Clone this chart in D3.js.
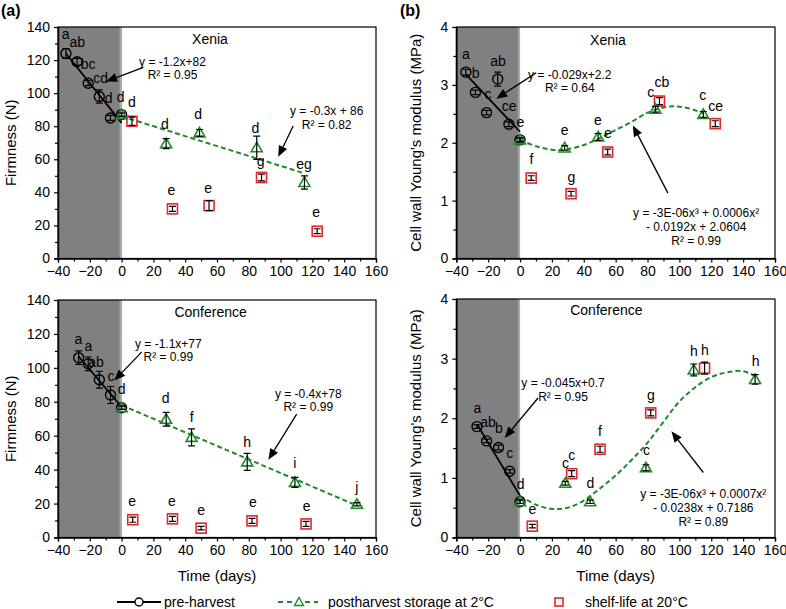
<!DOCTYPE html>
<html><head><meta charset="utf-8">
<script src="https://cdn.jsdelivr.net/npm/d3@7"></script>
<style>body{margin:0;background:#fff} text{font-family:"Liberation Sans",Arial,sans-serif}</style>
</head><body><svg id="c" width="786" height="609"></svg>
<script>
// ---------- data ----------
const xTickValues = [-40,-20,0,20,40,60,80,100,120,140,160];
const firmTicks = [0,20,40,60,80,100,120,140];
const youngTicks = [0,1,2,3,4];

// [time, value, error]
const xeniaFirmPre  = [[-35,124,3],[-28,119,2],[-21,106,1.5],[-14,98,4],[-7,85,1.5],[0,87,1]];
const xeniaFirmPost = [[0,87,1],[28,69.5,3],[49,76,2],[85,67,7],[115,46,4]];
const xeniaFirmShelf= [[6.5,83,2.5],[32,30,1.5],[55,32,3],[88,49,2],[123,16.5,1.5]];
const xeniaFirmPreFit  = [[-35,124],[0,82]];
const xeniaFirmPostFit = [[0,86],[115,51.5]];
const xeniaFirmLetters = [[-35.2,135.8,"a"],[-27.9,130.8,"ab"],[-21,117.6,"bc"],[-13.1,109,"cd"],[-8.1,96.7,"d"],[-0.6,97.7,"d"],[6.4,94.7,"d"],[27.3,81.1,"d"],[48.2,87.6,"d"],[84.1,79.1,"d"],[87.5,59.2,"g"],[114.7,56.8,"eg"],[31.3,41.1,"e"],[54.5,42.6,"e"],[122.3,28,"e"]];

const xeniaYoungPre  = [[-34,3.22,0.05],[-28,2.87,0.04],[-21,2.52,0.04],[-14,3.1,0.12],[-7,2.32,0.04],[0,2.05,0.04]];
const xeniaYoungPost = [[0,2.05,0.03],[28,1.91,0.04],[49,2.1,0.06],[85,2.58,0.05],[115,2.49,0.05]];
const xeniaYoungShelf= [[7,1.39,0.04],[32,1.12,0.04],[55,1.84,0.05],[87.5,2.72,0.06],[122.5,2.33,0.05]];
const xeniaYoungPreFit  = [[-34,3.18],[0,2.19]];
const xeniaYoungPostFit = [[0,2.05],[10,1.94],[20,1.88],[28,1.88],[40,1.96],[50,2.08],[60,2.22],[70,2.36],[80,2.52],[90,2.61],[97,2.63],[105,2.6],[115,2.51]];
const xeniaYoungLetters = [[-34,3.54,"a"],[-27.8,3.21,"b"],[-13.8,3.41,"ab"],[-20.1,2.84,"c"],[-6.9,2.63,"ce"],[0.2,2.36,"e"],[7.1,1.71,"f"],[32.2,1.41,"g"],[28,2.22,"e"],[48.9,2.4,"e"],[55.2,2.16,"e"],[82.1,2.88,"c"],[89,3.04,"cb"],[114.7,2.82,"c"],[122.7,2.63,"ce"]];

const confFirmPre  = [[-27,106,4],[-21,102.4,4],[-14,93,5],[-7,84,5],[0,76.5,1]];
const confFirmPost = [[0,76.5,1],[28,69.7,4],[44,59,5],[79,44.6,5],[109,32.5,3],[148,19.6,1]];
const confFirmShelf= [[7,10.5,1.5],[32,11,1.5],[50,5.5,1],[82,9.8,1.5],[116,8,1.5]];
const confFirmPreFit  = [[-27,106.7],[0,77]];
const confFirmPostFit = [[0,78],[148,18.8]];
const confFirmLetters = [[-27.2,117.2,"a"],[-20.9,112.9,"a"],[-16.1,103.4,"ab"],[-6.7,95.4,"c"],[0,87.5,"d"],[27.7,82,"d"],[44.1,70.7,"f"],[78.9,56.2,"h"],[108.9,43.6,"i"],[148,29.7,"j"],[6.7,21.2,"e"],[31.7,21.6,"e"],[50.1,16.2,"e"],[82.5,21,"e"],[116.4,18.8,"e"]];

const confYoungPre  = [[-27,1.86,0.03],[-21,1.62,0.03],[-13.5,1.51,0.04],[-6.5,1.11,0.03],[0,0.6,0.03]];
const confYoungPost = [[0,0.6,0.03],[28.4,0.91,0.03],[44,0.6,0.03],[79,1.17,0.05],[109,2.81,0.1],[147.5,2.65,0.08]];
const confYoungShelf= [[7.7,0.19,0.03],[32.4,1.07,0.05],[50.2,1.48,0.05],[82,2.09,0.05],[115.8,2.84,0.1]];
const confYoungPreFit  = [[-27,1.9],[0,0.7]];
const confYoungPostFit = [[0,0.7],[10,0.55],[20,0.48],[30,0.5],[40,0.62],[50,0.82],[60,1.04],[70,1.3],[80,1.59],[90,1.94],[100,2.28],[110,2.52],[120,2.69],[130,2.77],[140,2.79],[148,2.7]];
const confYoungLetters = [[-26.8,2.17,"a"],[-20.1,1.94,"ab"],[-13.2,1.84,"b"],[-6.5,1.42,"c"],[0.4,0.9,"d"],[7.7,0.48,"e"],[28.5,1.24,"c"],[32.5,1.38,"c"],[44.2,0.92,"d"],[50.1,1.79,"f"],[79.3,1.47,"c"],[82.1,2.38,"g"],[109.1,3.12,"h"],[116,3.15,"h"],[147.8,2.96,"h"]];

// ---------- styles ----------
const GREEN = "#1f8a2a", RED = "#e3262b";
const svg = d3.select("#c");

function panel(o){
  const x = d3.scaleLinear().domain([-40,160]).range([o.left,o.right]);
  const y = d3.scaleLinear().domain([0,o.ymax]).range([o.bottom,o.top]);
  const g = svg.append("g");
  // shaded pre-harvest area
  g.append("rect").attr("x",x(-40)).attr("y",o.top).attr("width",x(0)-x(-40)).attr("height",o.bottom-o.top).attr("fill","#808080");
  g.append("rect").attr("x",x(0)-2).attr("y",o.top).attr("width",2).attr("height",o.bottom-o.top).attr("fill","#a9a9a9");
  // frame
  g.append("rect").attr("x",o.left).attr("y",o.top).attr("width",o.right-o.left).attr("height",o.bottom-o.top).attr("fill","none").attr("stroke","#000").attr("stroke-width",1.2);
  // axes
  g.append("g").attr("transform",`translate(0,${o.bottom})`)
    .call(d3.axisBottom(x).tickValues(xTickValues).tickSize(4).tickPadding(4).tickFormat(d3.format("d")));
  g.append("g").attr("transform",`translate(0,${o.bottom})`)
    .call(d3.axisBottom(x).tickValues(d3.range(-30,160,20)).tickSize(3).tickFormat(""));
  g.append("g").attr("transform",`translate(${o.left},0)`)
    .call(d3.axisLeft(y).tickValues(o.yticks).tickSize(4).tickPadding(4).tickFormat(d3.format("d")));
  g.append("g").attr("transform",`translate(${o.left},0)`)
    .call(d3.axisLeft(y).tickValues(o.minor).tickSize(3).tickFormat(""));
  g.selectAll(".domain").attr("stroke","#000").attr("stroke-width",1.2);
  g.selectAll(".tick line").attr("stroke","#000").attr("stroke-width",1.2);
  g.selectAll(".tick text").attr("font-size",14).attr("fill","#000").attr("font-family","Liberation Sans, Arial, sans-serif");

  const line = d3.line().x(d=>x(d[0])).y(d=>y(d[1]));
  // fits
  g.append("path").attr("d",line(o.preFit)).attr("stroke","#000").attr("stroke-width",1.8).attr("fill","none");
  g.append("path").attr("d",line.curve(o.postCurve?d3.curveCatmullRom:d3.curveLinear)(o.postFit)).attr("stroke",GREEN).attr("stroke-width",2).attr("stroke-dasharray","5,3").attr("fill","none");

  // error bars
  function errbars(data){
    data.forEach(d=>{
      const y0=y(d[1]-d[2]), y1=y(d[1]+d[2]), cx=x(d[0]);
      const p=d3.path(); p.moveTo(cx,y0); p.lineTo(cx,y1); p.moveTo(cx-3.5,y0); p.lineTo(cx+3.5,y0); p.moveTo(cx-3.5,y1); p.lineTo(cx+3.5,y1);
      g.append("path").attr("d",p.toString()).attr("stroke","#000").attr("stroke-width",1.2).attr("fill","none");
    });
  }
  // markers
  g.selectAll(null).data(o.shelf).enter().append("rect")
    .attr("x",d=>x(d[0])-5).attr("y",d=>y(d[1])-5).attr("width",10).attr("height",10)
    .attr("fill","none").attr("stroke",RED).attr("stroke-width",1.6);
  errbars(o.shelf);
  g.selectAll(null).data(o.pre).enter().append("circle")
    .attr("cx",d=>x(d[0])).attr("cy",d=>y(d[1])).attr("r",5)
    .attr("fill","none").attr("stroke","#000").attr("stroke-width",1.4);
  errbars(o.pre);
  g.selectAll(null).data(o.post).enter().append("path")
    .attr("d",d=>`M${x(d[0])},${y(d[1])-5.5}L${x(d[0])+5.5},${y(d[1])+4}L${x(d[0])-5.5},${y(d[1])+4}Z`)
    .attr("fill","none").attr("stroke",GREEN).attr("stroke-width",1.6);
  errbars(o.post);

  // letters
  g.selectAll(null).data(o.letters).enter().append("text")
    .attr("x",d=>x(d[0])).attr("y",d=>y(d[1])).attr("dy","0.35em")
    .attr("text-anchor","middle").attr("font-size",14).text(d=>d[2]);

  // title
  g.append("text").attr("x",x(o.title[0])).attr("y",y(o.title[1])).attr("dy","0.35em")
    .attr("text-anchor","middle").attr("font-size",14).text(o.title[2]);

  // annotations
  o.notes.forEach(n=>{
    n.lines.forEach((t,i)=>{
      g.append("text").attr("x",x(n.x)).attr("y",y(n.ys[i])).attr("dy","0.35em")
        .attr("text-anchor","middle").attr("font-size",12).text(t);
    });
    const x1=x(n.from[0]), y1=y(n.from[1]), x2=x(n.to[0]), y2=y(n.to[1]);
    const ang=Math.atan2(y2-y1,x2-x1), L=11, W=4.5;
    const bx=x2-L*Math.cos(ang), by=y2-L*Math.sin(ang);
    g.append("line").attr("x1",x1).attr("y1",y1).attr("x2",bx).attr("y2",by).attr("stroke","#000").attr("stroke-width",1.3);
    g.append("path").attr("d",`M${x2},${y2}L${bx+W*Math.sin(ang)},${by-W*Math.cos(ang)}L${bx-W*Math.sin(ang)},${by+W*Math.cos(ang)}Z`).attr("fill","#000");
  });

  // y title
  g.append("text").attr("transform",`translate(${o.ytitleX},${(o.top+o.bottom)/2}) rotate(-90)`)
    .attr("text-anchor","middle").attr("font-size",15).text(o.ytitle);
  if(o.xtitle){
    g.append("text").attr("x",(o.left+o.right)/2).attr("y",o.bottom+43).attr("text-anchor","middle").attr("font-size",15).text("Time (days)");
  }
}

const firmMinor = d3.range(10,140,20);
const youngMinor = [0.5,1.5,2.5,3.5];

panel({left:58,right:376,top:27,bottom:258.5,ymax:140,yticks:firmTicks,minor:firmMinor,
  pre:xeniaFirmPre,post:xeniaFirmPost,shelf:xeniaFirmShelf,preFit:xeniaFirmPreFit,postFit:xeniaFirmPostFit,
  letters:xeniaFirmLetters,title:[55.6,132.8,"Xenia"],ytitle:"Firmness (N)",ytitleX:16,
  notes:[{x:32,ys:[119.2,110.9],lines:["y = -1.2x+82","R² = 0.95"],from:[13.7,115.6],to:[-9.8,107.1]},
         {x:129,ys:[89.6,81.1],lines:["y = -0.3x + 86","R² = 0.82"],from:[107.9,80.1],to:[98.5,61.5]}]});

panel({left:456.3,right:775,top:27,bottom:258.5,ymax:4,yticks:youngTicks,minor:youngMinor,
  pre:xeniaYoungPre,post:xeniaYoungPost,shelf:xeniaYoungShelf,preFit:xeniaYoungPreFit,postFit:xeniaYoungPostFit,postCurve:true,
  letters:xeniaYoungLetters,title:[55.2,3.77,"Xenia"],ytitle:"Cell wall Young's modulus (MPa)",ytitleX:421,
  notes:[{x:31.2,ys:[3.18,2.95],lines:["y = -0.029x+2.2","R² = 0.64"],from:[10.2,3.21],to:[-14.9,2.76]},
         {x:110.5,ys:[0.79,0.55,0.31],lines:["y = -3E-06x³ + 0.0006x²","- 0.0192x + 2.0604","R² = 0.99"],from:[92.8,1.13],to:[70.8,2.3]}]});

panel({left:58,right:376,top:300,bottom:537.5,ymax:140,yticks:firmTicks,minor:firmMinor,
  pre:confFirmPre,post:confFirmPost,shelf:confFirmShelf,preFit:confFirmPreFit,postFit:confFirmPostFit,
  letters:confFirmLetters,title:[56,132.7,"Conference"],ytitle:"Firmness (N)",ytitleX:16,xtitle:true,
  notes:[{x:29.4,ys:[114.3,106.4],lines:["y = -1.1x+77","R² = 0.99"],from:[12.6,109.3],to:[-4.6,92.5]},
         {x:117.4,ys:[85,77.2],lines:["y = -0.4x+78","R² = 0.99"],from:[110.1,72.7],to:[92.3,45.9]}]});

panel({left:456.3,right:775,top:299,bottom:537.5,ymax:4,yticks:youngTicks,minor:youngMinor,
  pre:confYoungPre,post:confYoungPost,shelf:confYoungShelf,preFit:confYoungPreFit,postFit:confYoungPostFit,postCurve:true,
  letters:confYoungLetters,title:[54.2,3.81,"Conference"],ytitle:"Cell wall Young's modulus (MPa)",ytitleX:421,xtitle:true,
  notes:[{x:27,ys:[2.6,2.36],lines:["y = -0.045x+0.7","R² = 0.95"],from:[11.3,2.34],to:[-9.6,1.67]},
         {x:115,ys:[0.74,0.5,0.27],lines:["y = -3E-06x³ + 0.0007x²","- 0.0238x + 0.7186","R² = 0.89"],from:[115,1.09],to:[95,1.78]}]});

// panel labels
svg.append("text").attr("x",1).attr("y",16).attr("font-size",16).attr("font-weight","bold").text("(a)");
svg.append("text").attr("x",400).attr("y",16).attr("font-size",16).attr("font-weight","bold").text("(b)");

// legend
const ly = 602;
const lg = svg.append("g");
lg.append("line").attr("x1",117).attr("x2",161).attr("y1",ly).attr("y2",ly).attr("stroke","#000").attr("stroke-width",1.8);
lg.append("circle").attr("cx",139).attr("cy",ly).attr("r",4).attr("fill","#fff").attr("stroke","#000").attr("stroke-width",1.4);
lg.append("text").attr("x",164).attr("y",ly).attr("dy","0.35em").attr("font-size",14).text("pre-harvest");
lg.append("line").attr("x1",278).attr("x2",318).attr("y1",ly).attr("y2",ly).attr("stroke",GREEN).attr("stroke-width",2).attr("stroke-dasharray","5,4");
lg.append("path").attr("d",`M299,${ly-4.5}L303.5,${ly+3.5}L294.5,${ly+3.5}Z`).attr("fill","#fff").attr("stroke",GREEN).attr("stroke-width",1.4);
lg.append("text").attr("x",328).attr("y",ly).attr("dy","0.35em").attr("font-size",14).text("postharvest storage at 2°C");
lg.append("rect").attr("x",555).attr("y",ly-4).attr("width",8).attr("height",8).attr("fill","none").attr("stroke",RED).attr("stroke-width",1.6);
lg.append("text").attr("x",585).attr("y",ly).attr("dy","0.35em").attr("font-size",14).text("shelf-life at 20°C");
</script></body></html>
